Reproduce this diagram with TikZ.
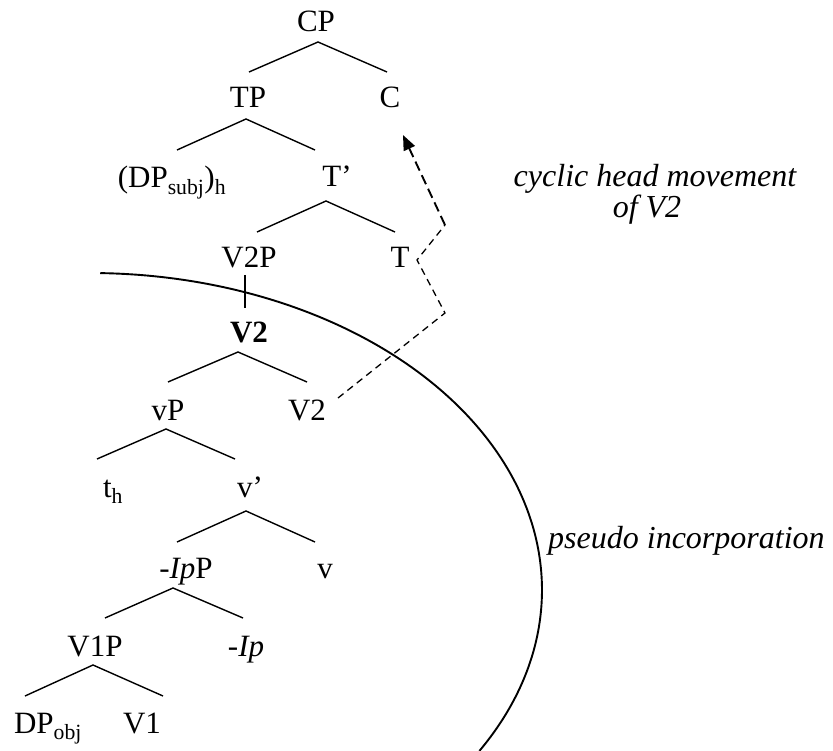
\documentclass[tikz,border=0pt]{standalone}
\usepackage{fontspec}
\setmainfont{Liberation Serif}
\usetikzlibrary{arrows.meta}
\begin{document}
\begin{tikzpicture}[x=1pt,y=-1pt,
  lbl/.style={anchor=base,inner sep=0pt,font=\fontsize{31}{34}\selectfont},
  note/.style={anchor=base,inner sep=0pt,font=\fontsize{32}{34}\selectfont\itshape},
  branch/.style={line width=1.4pt},
  mv/.style={line width=1.3pt,dash pattern=on 7pt off 5pt},
  mvtop/.style={line width=1.9pt,dash pattern=on 10pt off 5pt,-{Triangle[length=15pt,width=12pt]}}]
\useasboundingbox (0,0) rectangle (833,751);
% labels
\node[lbl] (cp) at (316,32) {CP};
\node[lbl] (tp) at (248,108) {TP};
\node[lbl] (c) at (390,108) {C};
\node[lbl] (dps) at (172,188) {(DP\textsubscript{subj})\textsubscript{h}};
\node[lbl] (tbar) at (337,187) {T’};
\node[lbl] (v2p) at (249,268) {V2P};
\node[lbl] (t) at (400,268) {T};
\node[lbl] (v2b) at (249,343) {\textbf{V2}};
\node[lbl] (vp) at (168,420) {vP};
\node[lbl] (v2) at (307,420) {V2};
\node[lbl] (th) at (113,497) {t\textsubscript{h}};
\node[lbl] (vbar) at (250,497) {v’};
\node[lbl] (ipp) at (186,578) {\textit{-Ip}P};
\node[lbl] (v) at (325,578) {v};
\node[lbl] (v1p) at (95,656) {V1P};
\node[lbl] (ip) at (246,656) {\textit{-Ip}};
\node[lbl] (dpo) at (48,733) {DP\textsubscript{obj}};
\node[lbl] (v1) at (142,733) {V1};
\node[note] (cyc1) at (655,187) {cyclic head movement};
\node[note] (cyc2) at (647,218) {of V2};
\node[note,anchor=base west] (pi) at (548,548) {pseudo incorporation};
% branch points
\coordinate (cpA) at (318,42); \coordinate (cpL) at (249,72); \coordinate (cpR) at (387,72);
\coordinate (tpA) at (246,119); \coordinate (tpL) at (177,150); \coordinate (tpR) at (315,150);
\coordinate (tbA) at (326,201); \coordinate (tbL) at (257,232); \coordinate (tbR) at (395,232);
\coordinate (v2pT) at (245,275); \coordinate (v2pB) at (245,308);
\coordinate (v2A) at (238,352); \coordinate (v2L) at (168,382); \coordinate (v2R) at (307,382);
\coordinate (vpA) at (166,429); \coordinate (vpL) at (97,459); \coordinate (vpR) at (235,459);
\coordinate (vbA) at (246,511); \coordinate (vbL) at (177,542); \coordinate (vbR) at (315,542);
\coordinate (ipA) at (173,588); \coordinate (ipL) at (105,618); \coordinate (ipR) at (243,618);
\coordinate (v1A) at (93,665); \coordinate (v1L) at (25,696); \coordinate (v1R) at (163,696);
\draw[branch] (cpL) -- (cpA) -- (cpR);
\draw[branch] (tpL) -- (tpA) -- (tpR);
\draw[branch] (tbL) -- (tbA) -- (tbR);
\draw[branch] (v2pT) -- (v2pB);
\draw[branch] (v2L) -- (v2A) -- (v2R);
\draw[branch] (vpL) -- (vpA) -- (vpR);
\draw[branch] (vbL) -- (vbA) -- (vbR);
\draw[branch] (ipL) -- (ipA) -- (ipR);
\draw[branch] (v1L) -- (v1A) -- (v1R);
% movement path
\coordinate (m1) at (338,398); \coordinate (m2) at (445,313);
\coordinate (m3) at (417,260); \coordinate (m4) at (445,225);
\coordinate (m5) at (403,135);
\draw[mv] (m1) -- (m2) -- (m3) -- (m4);
\draw[mvtop] (m4) -- (m5);
% incorporation boundary
\draw[line width=1.9pt] plot[domain=88.7:-30.5,samples=120,smooth] ({90+452*cos(\x)},{590-317*sin(\x)});
\end{tikzpicture}
\end{document}
